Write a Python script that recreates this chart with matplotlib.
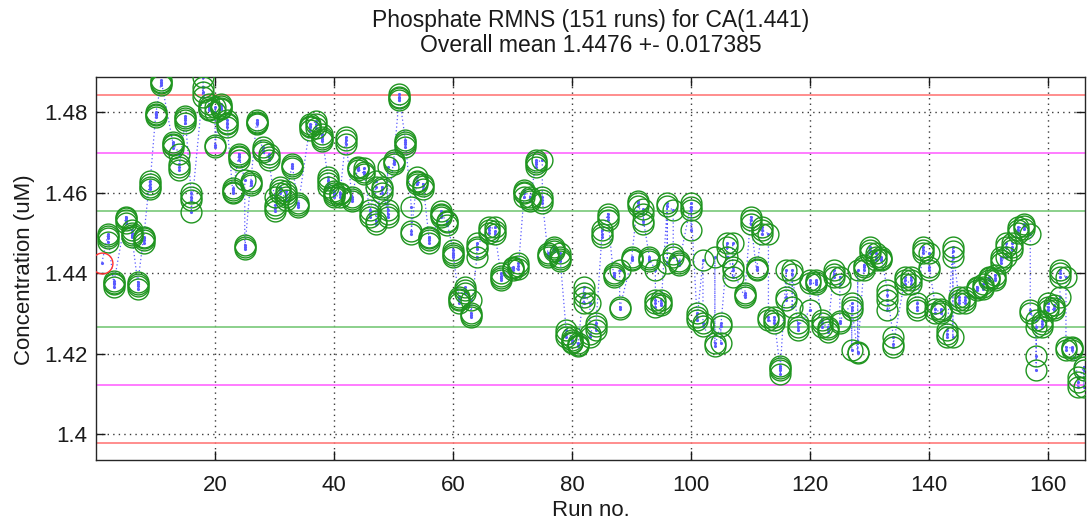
import matplotlib
matplotlib.use("Agg")
import matplotlib.pyplot as plt

plt.rcParams['font.family'] = ['Liberation Sans', 'DejaVu Sans']

# Certified value of the reference material
CA = 1.441
overall_mean_text = "1.4476 +- 0.017385"

# Run numbers and the replicate concentrations (uM) measured in each run
run_no = [
    1, 2, 3, 5, 6, 7, 8, 9, 10, 11, 13, 14, 15, 16, 18, 19, 20, 21, 22, 23,
    24, 25, 26, 27, 28, 29, 30, 31, 32, 33, 34, 36, 37, 38, 39, 40, 41, 42, 43, 44,
    45, 46, 47, 48, 49, 50, 51, 52, 53, 54, 55, 56, 58, 59, 60, 61, 62, 63, 64, 66,
    67, 68, 70, 71, 72, 73, 74, 75, 76, 77, 78, 79, 80, 81, 82, 83, 84, 85, 86, 87,
    88, 90, 91, 92, 93, 94, 95, 96, 97, 98, 100, 101, 102, 104, 105, 106, 107, 109, 110, 111,
    112, 113, 114, 115, 116, 117, 118, 120, 121, 122, 123, 124, 125, 127, 128, 129, 130, 131, 132, 133,
    134, 136, 137, 138, 139, 140, 141, 142, 143, 144, 145, 146, 148, 149, 150, 151, 152, 153, 154, 155,
    156, 157, 158, 159, 160, 161, 162, 163, 164, 165, 166,
]

conc = [
    [1.4426],
    [1.4498, 1.4488, 1.4478, 1.4492], [1.4372, 1.4365, 1.4380, 1.4376],
    [1.4540, 1.4525, 1.4532, 1.4536], [1.4500, 1.4490, 1.4508, 1.4495],
    [1.4378, 1.4360, 1.4368, 1.4372], [1.4490, 1.4475, 1.4482, 1.4486],
    [1.4630, 1.4614, 1.4622, 1.4608], [1.4788, 1.4796, 1.4800, 1.4792],
    [1.4879, 1.4872, 1.4866, 1.4875], [1.4717, 1.4726, 1.4710, 1.4720],
    [1.4697, 1.4672, 1.4655, 1.4664], [1.4780, 1.4790, 1.4772, 1.4784],
    [1.4598, 1.4581, 1.4590, 1.4552], [1.4862, 1.4887, 1.4837, 1.4850],
    [1.4820, 1.4804, 1.4812, 1.4808], [1.4800, 1.4813, 1.4713, 1.4718],
    [1.4820, 1.4808, 1.4815, 1.4811], [1.4780, 1.4762, 1.4770, 1.4774],
    [1.4598, 1.4606, 1.4612, 1.4602], [1.4697, 1.4680, 1.4688, 1.4692],
    [1.4632, 1.4465, 1.4470, 1.4460], [1.4630, 1.4620, 1.4625],
    [1.4780, 1.4772, 1.4770, 1.4776], [1.4705, 1.4712, 1.4700],
    [1.4688, 1.4695, 1.4680], [1.4590, 1.4570, 1.4555, 1.4562],
    [1.4614, 1.4600, 1.4607], [1.4581, 1.4590, 1.4605, 1.4596],
    [1.4672, 1.4660, 1.4666], [1.4564, 1.4575, 1.4570],
    [1.4770, 1.4755, 1.4762, 1.4766], [1.4778, 1.4760, 1.4770],
    [1.4738, 1.4745, 1.4728, 1.4734], [1.4639, 1.4614, 1.4625, 1.4632],
    [1.4598, 1.4590, 1.4605, 1.4594], [1.4590, 1.4600, 1.4596],
    [1.4738, 1.4721, 1.4730], [1.4590, 1.4580, 1.4585],
    [1.4664, 1.4655, 1.4660], [1.4647, 1.4660, 1.4652],
    [1.4556, 1.4540, 1.4548], [1.4630, 1.4523, 1.4614, 1.4530],
    [1.4614, 1.4600, 1.4608], [1.4556, 1.4540, 1.4664, 1.4548],
    [1.4680, 1.4670, 1.4675], [1.4845, 1.4829, 1.4838, 1.4834],
    [1.4730, 1.4713, 1.4720, 1.4725], [1.4564, 1.4498, 1.4505],
    [1.4639, 1.4622, 1.4630, 1.4626], [1.4622, 1.4610, 1.4616],
    [1.4482, 1.4474, 1.4490, 1.4486], [1.4540, 1.4548, 1.4555, 1.4544],
    [1.4530, 1.4520, 1.4526], [1.4457, 1.4440, 1.4450, 1.4446],
    [1.4341, 1.4325, 1.4333, 1.4337], [1.4366, 1.4350, 1.4358],
    [1.4333, 1.4292, 1.4300, 1.4296], [1.4440, 1.4474, 1.4460, 1.4466],
    [1.4515, 1.4500, 1.4508], [1.4515, 1.4498, 1.4505],
    [1.4400, 1.4383, 1.4392, 1.4388], [1.4416, 1.4407, 1.4412],
    [1.4410, 1.4425, 1.4418], [1.4606, 1.4590, 1.4598, 1.4602],
    [1.4590, 1.4580, 1.4585], [1.4680, 1.4664, 1.4672, 1.4676],
    [1.4680, 1.4590, 1.4573, 1.4582], [1.4440, 1.4450, 1.4445],
    [1.4465, 1.4455, 1.4460], [1.4440, 1.4450, 1.4430, 1.4436],
    [1.4259, 1.4242, 1.4250], [1.4242, 1.4226, 1.4235, 1.4230],
    [1.4226, 1.4218, 1.4222], [1.4366, 1.4341, 1.4325, 1.4350],
    [1.4325, 1.4242, 1.4250], [1.4275, 1.4260, 1.4268],
    [1.4490, 1.4507, 1.4498], [1.4548, 1.4531, 1.4540],
    [1.4391, 1.4400, 1.4396], [1.4407, 1.4317, 1.4312],
    [1.4432, 1.4440, 1.4436], [1.4573, 1.4580, 1.4566],
    [1.4548, 1.4523, 1.4560, 1.4530], [1.4440, 1.4430, 1.4436],
    [1.4407, 1.4333, 1.4317, 1.4325], [1.4333, 1.4320, 1.4326],
    [1.4573, 1.4424, 1.4566], [1.4556, 1.4440, 1.4448],
    [1.4420, 1.4430, 1.4425], [1.4573, 1.4556, 1.4507, 1.4564],
    [1.4292, 1.4300, 1.4284], [1.4432, 1.4275, 1.4268],
    [1.4226, 1.4440, 1.4218], [1.4275, 1.4226, 1.4268],
    [1.4440, 1.4474, 1.4466], [1.4391, 1.4416, 1.4474, 1.4408],
    [1.4341, 1.4350, 1.4345], [1.4540, 1.4523, 1.4532],
    [1.4407, 1.4415, 1.4410], [1.4515, 1.4498, 1.4506],
    [1.4498, 1.4292, 1.4284], [1.4275, 1.4292, 1.4283],
    [1.4159, 1.4150, 1.4170, 1.4164], [1.4407, 1.4333, 1.4340],
    [1.4399, 1.4317, 1.4408], [1.4259, 1.4275, 1.4267],
    [1.4308, 1.4383, 1.4376], [1.4374, 1.4383, 1.4378],
    [1.4283, 1.4267, 1.4275], [1.4267, 1.4255, 1.4261],
    [1.4407, 1.4391, 1.4399], [1.4391, 1.4275, 1.4374, 1.4282],
    [1.4325, 1.4308, 1.4209, 1.4316], [1.4201, 1.4407, 1.4205],
    [1.4407, 1.4420, 1.4414], [1.4465, 1.4449, 1.4457],
    [1.4449, 1.4432, 1.4440], [1.4432, 1.4440, 1.4436],
    [1.4358, 1.4333, 1.4308, 1.4345], [1.4242, 1.4217, 1.4225],
    [1.4391, 1.4374, 1.4382], [1.4374, 1.4390, 1.4382],
    [1.4325, 1.4308, 1.4316], [1.4465, 1.4449, 1.4457],
    [1.4449, 1.4407, 1.4415], [1.4325, 1.4300, 1.4312],
    [1.4300, 1.4310, 1.4305], [1.4259, 1.4242, 1.4250],
    [1.4465, 1.4440, 1.4242, 1.4456], [1.4341, 1.4325, 1.4333],
    [1.4325, 1.4341, 1.4333], [1.4358, 1.4366, 1.4362],
    [1.4366, 1.4360, 1.4372], [1.4391, 1.4383, 1.4387],
    [1.4383, 1.4395, 1.4389], [1.4424, 1.4440, 1.4432],
    [1.4440, 1.4474, 1.4466], [1.4457, 1.4474, 1.4465],
    [1.4515, 1.4500, 1.4508], [1.4523, 1.4510, 1.4516],
    [1.4498, 1.4308, 1.4300], [1.4283, 1.4193, 1.4159, 1.4267],
    [1.4267, 1.4280, 1.4274], [1.4325, 1.4308, 1.4316],
    [1.4308, 1.4320, 1.4314], [1.4341, 1.4407, 1.4391, 1.4400],
    [1.4391, 1.4217, 1.4210], [1.4217, 1.4209, 1.4213],
    [1.4143, 1.4118, 1.4130], [1.4168, 1.4118, 1.4160],
]
assert len(conc) == len(run_no)

# Tolerance bands around the certified value: +-1 %, +-2 %, +-3 %
band_pct = [1, 2, 3]
band_colors = ['#78c878', '#ff66ff', '#ff7a7a']

x_ticks = [20, 40, 60, 80, 100, 120, 140, 160]
y_ticks = [1.40, 1.42, 1.44, 1.46, 1.48]
y_ticklabels = ['1.4', '1.42', '1.44', '1.46', '1.48']

W, H = 1091, 523
fig = plt.figure(figsize=(W / 100, H / 100), dpi=100)
ax = fig.add_axes([96 / W, 1 - 460 / H, (1085 - 96) / W, (460 - 77) / H])

ax.set_xlim(0, 166.2)
ax.set_ylim(1.3936, 1.4887)

# dotted grid
ax.set_xticks(x_ticks)
ax.set_yticks(y_ticks)
ax.set_yticklabels(y_ticklabels)
ax.grid(True, color='#3a3a3a', linestyle=(0, (1, 3)), linewidth=1.0)
ax.set_axisbelow(True)

for pct, col in zip(band_pct, band_colors):
    for sgn in (1, -1):
        ax.axhline(CA * (1 + sgn * pct / 100), color=col, linewidth=1.2, zorder=1.5)

# sequence of all replicates, joined by a dotted line
xs, ys = [], []
for r, vals in zip(run_no, conc):
    for v in vals:
        xs.append(r)
        ys.append(v)
ax.plot(xs, ys, linestyle=(0, (1, 2)), color='#5a5aff', linewidth=0.9,
        marker='.', markersize=2.5, zorder=2)

# replicate markers; the first run is flagged in red
ax.plot(xs[1:], ys[1:], linestyle='none', marker='o', markersize=15,
        markerfacecolor='none', markeredgecolor='#1f951f', markeredgewidth=1.0, zorder=3)
ax.plot(xs[:1], ys[:1], linestyle='none', marker='o', markersize=15,
        markerfacecolor='none', markeredgecolor='#ff3030', markeredgewidth=1.0, zorder=3)

for s in ax.spines.values():
    s.set_color('#262626')
    s.set_linewidth(1.0)

fs = 16
ax.tick_params(direction='in', length=6.5, width=1.0, top=True, right=True,
               labelsize=fs, colors='#1a1a1a')
ax.tick_params(axis='x', pad=11)
ax.tick_params(axis='y', pad=6)

cx = (96 + 1085) / 2 / W
fig.text(cx, 1 - 21 / H, f"Phosphate RMNS ({len(run_no)} runs) for CA({CA})",
         ha='center', va='center', fontsize=16.5, color='#1a1a1a')
fig.text(cx, 1 - 46 / H, f"Overall mean {overall_mean_text}",
         ha='center', va='center', fontsize=16.5, color='#1a1a1a')
fig.text(cx, 1 - 510 / H, "Run no.", ha='center', va='center', fontsize=fs, color='#1a1a1a')
fig.text(25 / W, 1 - 270 / H, "Concentration (uM)", ha='center', va='center',
         rotation=90, fontsize=fs, color='#1a1a1a')

fig.savefig("out.png", dpi=100)
